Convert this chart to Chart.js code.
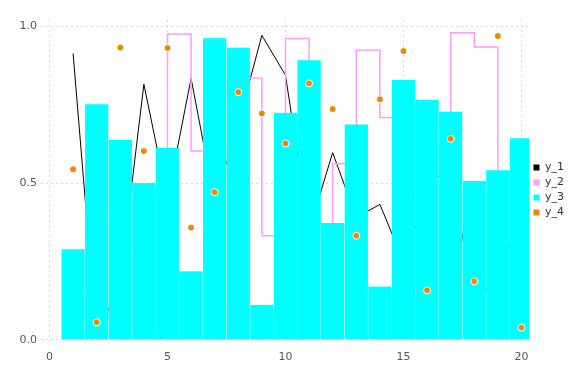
<!DOCTYPE html>
<html>
<head>
<meta charset="utf-8">
<script src="https://cdn.jsdelivr.net/npm/chart.js@4"></script>
<style>
  html, body { margin: 0; padding: 0; background: #fff; }
</style>
</head>
<body>
<canvas id="chart" width="576" height="384"></canvas>
<script>
const xValues = [1, 2, 3, 4, 5, 6, 7, 8, 9, 10, 11, 12, 13, 14, 15, 16, 17, 18, 19, 20];
const y1 = [0.913, 0.005, 0.19, 0.815, 0.45, 0.834, 0.44, 0.69, 0.971, 0.844,
            0.35, 0.597, 0.39, 0.432, 0.25, 0.466, 0.578, 0.08, 0.234, 0.36];
const y2 = [0.15, 0.4, 0.3, 0.2, 0.975, 0.602, 0.5, 0.835, 0.332, 0.961,
            0.25, 0.562, 0.924, 0.709, 0.45, 0.6, 0.979, 0.934, 0.3, 0.2];
const y3 = [0.289, 0.751, 0.637, 0.501, 0.612, 0.219, 0.962, 0.932, 0.112, 0.724,
            0.892, 0.373, 0.687, 0.17, 0.829, 0.765, 0.728, 0.507, 0.541, 0.643];
const y4 = [0.544, 0.056, 0.932, 0.602, 0.931, 0.358, 0.471, 0.79, 0.722, 0.626,
            0.818, 0.736, 0.332, 0.767, 0.921, 0.158, 0.641, 0.187, 0.969, 0.039];
const xTicks = [0, 5, 10, 15, 20];
const yTicks = [0, 0.5, 1.0];
const seriesNames = ['y_1', 'y_2', 'y_3', 'y_4'];
const seriesColors = ['#000000', '#ff9cff', '#00ffff', '#ec8a00'];

const toPoints = (ys) => ys.map((y, i) => ({x: xValues[i], y: y}));

const tickFont = {family: 'DejaVu Sans', size: 11};
const gridColor = '#d8d8e2';

new Chart(document.getElementById('chart'), {
    type: 'bar',
    data: {
        datasets: [{
            type: 'line',
            label: seriesNames[0],
            data: toPoints(y1),
            borderColor: seriesColors[0],
            backgroundColor: seriesColors[0],
            borderWidth: 1,
            pointRadius: 0,
            order: 4
        }, {
            type: 'line',
            label: seriesNames[1],
            data: toPoints(y2),
            borderColor: seriesColors[1],
            backgroundColor: seriesColors[1],
            borderWidth: 1.5,
            stepped: 'before',
            pointRadius: 0,
            order: 3
        }, {
            type: 'bar',
            label: seriesNames[2],
            data: toPoints(y3),
            backgroundColor: seriesColors[2],
            borderColor: 'rgba(255, 255, 255, 0.2)',
            borderWidth: { left: 0.5, right: 0.5, top: 0, bottom: 0 },
            barPercentage: 1,
            categoryPercentage: 1,
            order: 2
        }, {
            type: 'scatter',
            label: seriesNames[3],
            data: toPoints(y4),
            backgroundColor: seriesColors[3],
            borderColor: '#ffffff',
            borderWidth: 1,
            pointRadius: 3.5,
            order: 1
        }]
    },
    options: {
        responsive: false,
        animation: false,
        // bottom padding keeps the legend centred where the reference has it
        layout: { padding: { top: 20, left: 0, right: 2, bottom: 24 } },
        plugins: {
            tooltip: { enabled: false },
            legend: {
                position: 'right',
                labels: {
                    font: tickFont,
                    color: '#333333',
                    boxWidth: 6,
                    boxHeight: 6,
                    padding: 4,
                    sort: (a, b) => a.datasetIndex - b.datasetIndex,
                    generateLabels: (chart) => chart.data.datasets.map((ds, i) => ({
                        text: ds.label,
                        fillStyle: seriesColors[i],
                        strokeStyle: seriesColors[i],
                        lineWidth: 0,
                        fontColor: '#333333',
                        datasetIndex: i
                    }))
                }
            }
        },
        scales: {
            x: {
                type: 'linear',
                offset: false,
                min: -0.36,
                max: 20.34,
                afterBuildTicks: (scale) => { scale.ticks = xTicks.map(v => ({value: v})); },
                afterFit: (scale) => { scale.height = 17; },
                ticks: { font: tickFont, color: '#555560', padding: 8 },
                grid: { color: gridColor, drawTicks: false, offset: false },
                border: { display: false, dash: [2, 3] }
            },
            y: {
                min: -0.01,
                max: 1.02,
                afterBuildTicks: (scale) => { scale.ticks = yTicks.map(v => ({value: v})); },
                afterFit: (scale) => { scale.width = 41; },
                ticks: {
                    font: tickFont,
                    color: '#555560',
                    padding: 4,
                    callback: (v) => Number(v).toFixed(1)
                },
                grid: { color: gridColor, drawTicks: false },
                border: { display: false, dash: [2, 3] }
            }
        }
    }
});
</script>
</body>
</html>
